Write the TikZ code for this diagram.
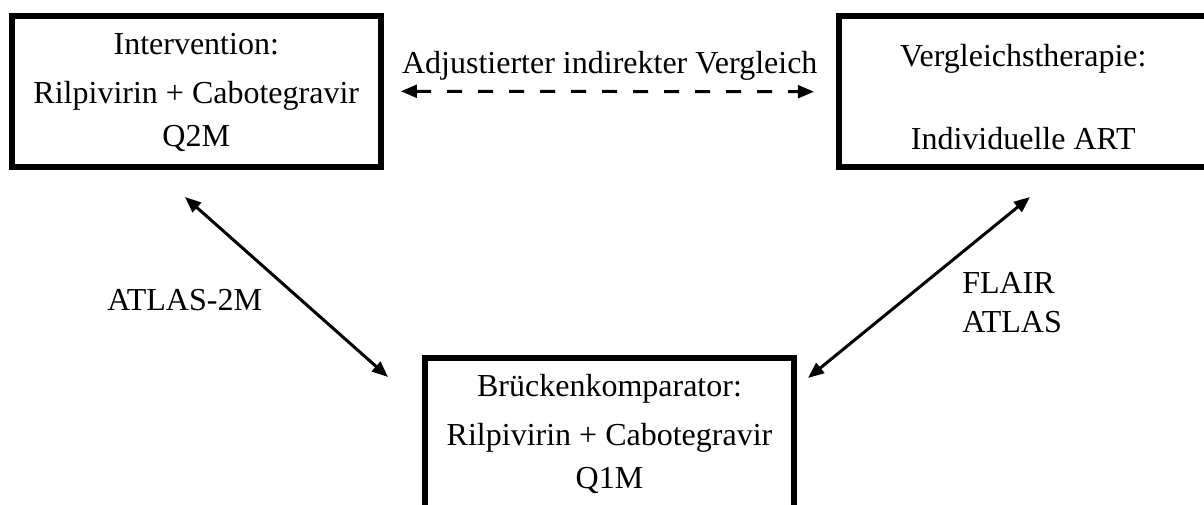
\documentclass[tikz,border=0pt]{standalone}
\usepackage{fontspec}
\setmainfont{Liberation Serif}
\usetikzlibrary{arrows.meta,positioning}

\begin{document}
\begin{tikzpicture}[x=0.75pt,y=0.75pt,yscale=-1,xscale=1,
  box/.style={draw,line width=4.5pt,minimum width=276.4pt,minimum height=112.9pt,inner sep=0pt},
  boxtext/.style={align=center,inner sep=0pt,anchor=north,font=\fontsize{24}{32.5}\selectfont},
  lab/.style={inner sep=0pt,font=\fontsize{24}{29}\selectfont},
  link/.style={line width=2.25pt,{Triangle[length=12pt,width=9.5pt]}-{Triangle[length=12pt,width=9.5pt]}}]
\useasboundingbox (0,0) rectangle (1204,505);
% boxes
\node[box] (interv) at (196.25,91.25) {};
\node[box] (vergl) at (1023.25,91.75) {};
\node[box] (bruecke) at (609.5,433.75) {};
% box texts
\node[boxtext] (intervtxt) at (196.25,33) {Intervention:\\[4pt]Rilpivirin + Cabotegravir\\Q2M};
\node[boxtext] (vergltxt) at (1023.25,44) {Vergleichstherapie:\\[30pt]Individuelle ART};
\node[boxtext] (bruecketxt) at (609.5,374) {Brückenkomparator:\\[4pt]Rilpivirin + Cabotegravir\\Q1M};
% free ends of the diagonal links
\coordinate (a1) at (185,197);
\coordinate (a2) at (388,377);
\coordinate (b1) at (1030,197);
\coordinate (b2) at (808,378);
% links
\draw[link,dash pattern={on 11.25pt off 12pt},shorten <=13pt,shorten >=16.5pt] (interv.east) -- (vergl.west)
  node[lab,midway,above=7pt] (vgltxt) {Adjustierter indirekter Vergleich};
\draw[link] (a1) -- (a2);
\draw[link] (b1) -- (b2);
% study labels
\node[lab,anchor=west] (atlas2m) at (107,300) {ATLAS-2M};
\node[lab,anchor=north west,align=left] (flair) at (962,272) {FLAIR\\ATLAS};
\end{tikzpicture}
\end{document}
